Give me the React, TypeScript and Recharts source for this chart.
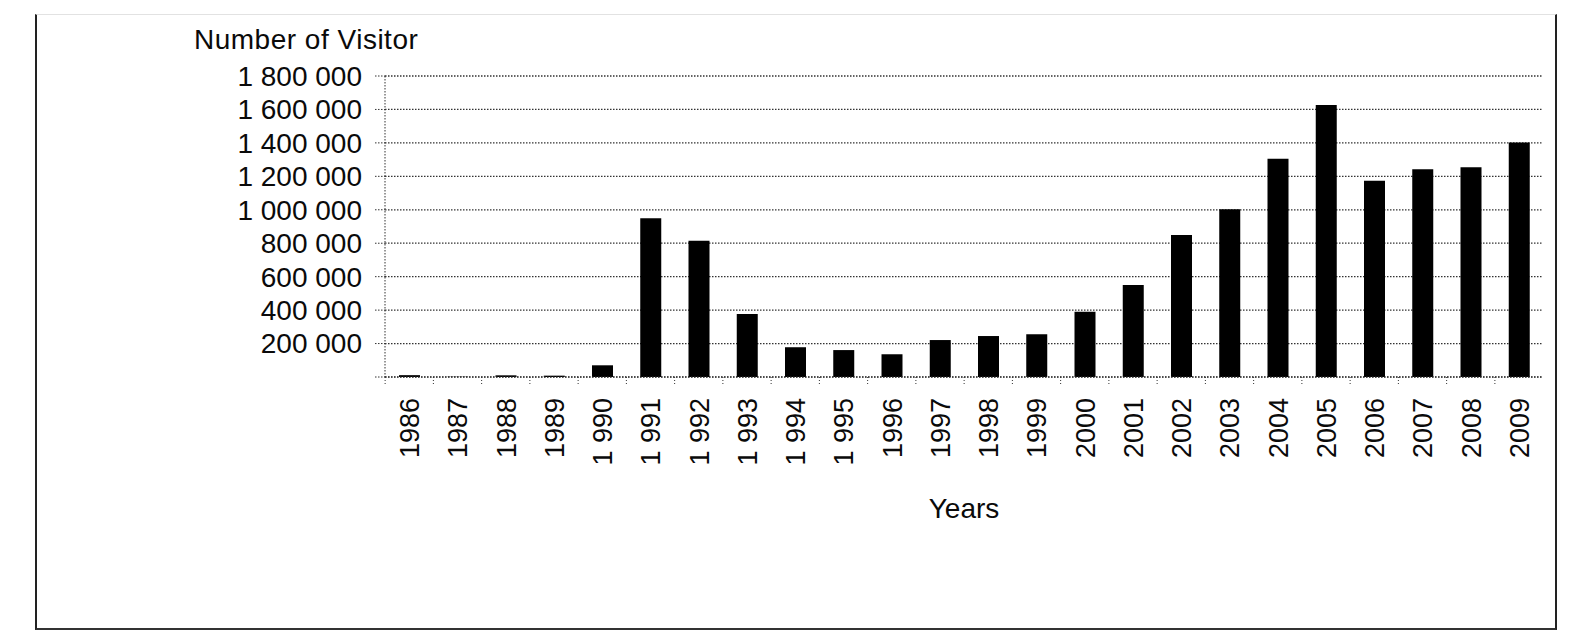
import { BarChart, Bar, XAxis, YAxis, CartesianGrid } from 'recharts';

const years = [
  '1986', '1987', '1988', '1989', '1 990', '1 991', '1 992', '1 993', '1 994', '1 995', '1996', '1997',
  '1998', '1999', '2000', '2001', '2002', '2003', '2004', '2005', '2006', '2007', '2008', '2009',
];
const visitors = [
  11000, 1500, 10000, 8000, 70000, 950000, 815000, 377000, 178000, 161000, 136000, 221000,
  245000, 255000, 390000, 550000, 849000, 1003000, 1305000, 1627000, 1174000, 1242000, 1254000, 1402000,
];
const yTicks = [0, 200000, 400000, 600000, 800000, 1000000, 1200000, 1400000, 1600000, 1800000];

const data = years.map((year, i) => ({ year, visitors: visitors[i] }));

const FONT = '"Liberation Sans", Arial, sans-serif';
const INK = '#0a0a0a';
const DOT = '#333';

const fmt = (v: number) => (v === 0 ? '' : String(v).replace(/\B(?=(\d{3})+(?!\d))/g, ' '));

function YearTick({ x, y, payload }: any) {
  return (
    <g transform={`translate(${x},${y})`}>
      <line x1={-24} x2={-24} y1={0} y2={8} stroke={DOT} strokeDasharray="1 2" />
      <text
        transform="rotate(-90)"
        x={-21}
        y={0}
        dy={10}
        textAnchor="end"
        fontSize={27}
        fill={INK}
        fontFamily={FONT}
      >
        {payload.value}
      </text>
    </g>
  );
}

export default function App() {
  return (
    <div style={{ position: 'absolute', left: 0, top: 0, width: 1571, height: 633, background: '#fff', fontFamily: FONT }}>
      <div
        style={{
          position: 'absolute', left: 35, top: 14, width: 1518, height: 613,
          borderLeft: '2px solid #222', borderRight: '2px solid #222',
          borderBottom: '2px solid #333', borderTop: '1px solid #e2e2e2',
        }}
      />
      <div
        style={{
          position: 'absolute', left: 194, top: 26, fontSize: 28, lineHeight: '28px',
          color: INK, whiteSpace: 'nowrap', letterSpacing: 0.5,
        }}
      >
        Number of Visitor
      </div>
      <div style={{ position: 'absolute', left: 0, top: 0 }}>
        <BarChart width={1571} height={633} data={data} margin={{ top: 76, right: 28, left: 0, bottom: 0 }}>
          <CartesianGrid vertical={false} stroke={DOT} strokeWidth={1.3} strokeDasharray="1.5 1.5" />
          <YAxis
            width={385}
            domain={[0, 1800000]}
            ticks={yTicks}
            interval={0}
            tickFormatter={fmt}
            tickSize={10}
            tickMargin={13}
            axisLine={{ stroke: DOT, strokeDasharray: '1.5 1.5' }}
            tickLine={{ stroke: DOT, strokeDasharray: '1.5 1.5' }}
            tick={{ fontSize: 28, fill: INK, fontFamily: FONT }}
          />
          <XAxis
            dataKey="year"
            height={256}
            interval={0}
            tickSize={0}
            tickMargin={0}
            tickLine={false}
            axisLine={{ stroke: DOT, strokeDasharray: '1.5 1.5' }}
            tick={<YearTick />}
            label={{ value: 'Years', position: 'insideTop', offset: 121, fontSize: 28, fill: INK, fontFamily: FONT }}
          />
          <Bar dataKey="visitors" fill="#000" barSize={21} isAnimationActive={false} />
        </BarChart>
      </div>
    </div>
  );
}
